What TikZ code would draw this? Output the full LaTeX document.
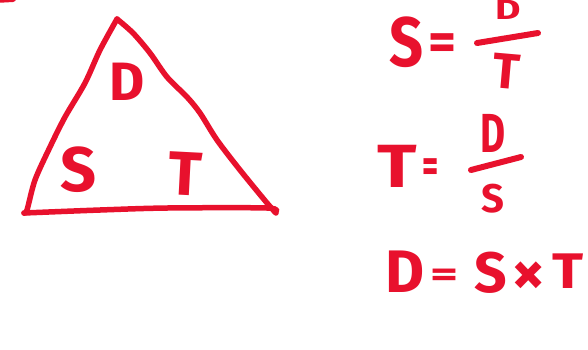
\documentclass[tikz,border=0pt]{standalone}
\usepackage{fontspec}
\newfontfamily\hand{Fira Sans}
\definecolor{mk}{RGB}{232,17,45}
\tikzset{
  ltr/.style={text=mk, inner sep=0pt, outer sep=0pt, font=\hand\bfseries\fontsize{#1}{#1}\selectfont},
  ink/.style={draw=mk, line width=#1, line cap=round, line join=round},
}
\begin{document}
\begin{tikzpicture}[x=1pt,y=-1pt]
\useasboundingbox (0,0) rectangle (588,349);
\clip (0,0) rectangle (588,349);
\fill[white] (0,0) rectangle (588,349);
% stray stroke at top left
\draw[ink=6pt] (-5,0) -- (13,-1);
% triangle
\draw[ink=5.5pt] plot[smooth, tension=0.5] coordinates {(117,19) (100,50) (85,83) (65,117) (50,147) (35,180) (27,210) (24,213)};
\draw[ink=5.5pt] plot[smooth, tension=0.5] coordinates {(24,213) (100,210) (167,208) (267,208) (275,212)};
\draw[ink=5.5pt] plot[smooth, tension=0.5] coordinates {(117,19) (133,33) (150,53) (167,77) (187,97) (200,113) (217,140) (240,170) (267,203) (276,213)};
\node[ltr=54] (tD) at (127,82) {D};
\node[ltr=63] (tS) at (79,170) {S};
\node[ltr=62, rotate=-3] (tT) at (185,174) {T};
% S = D / T
\node[ltr=70, xscale=.85] (s1) at (407,42) {S};
\node[ltr=54] (e1) at (443,47) {=};
\node[ltr=28, xscale=1.4] (fD1) at (508,10) {D};
\draw[ink=6pt] (477,43) -- (538,33);
\node[ltr=50, rotate=-5] (fT1) at (506,71) {T};
% T = D / S
\node[ltr=61, xscale=1.2] (t2) at (397,166) {T};
\node[ltr=48, xscale=.65] (e2) at (431,171) {=};
\node[ltr=55, xscale=.7] (fD2) at (493,133) {D};
\draw[ink=6pt] (471,170) -- (521,157);
\node[ltr=40] (fS2) at (493,199) {S};
% D = S x T
\node[ltr=60] (d3) at (405,272) {D};
\node[ltr=54, yscale=.65] (e3) at (445,278) {=};
\node[ltr=57] (s3) at (491,273) {S};
\node[ltr=66] (x3) at (529,279) {×};
\node[ltr=50, xscale=1.15] (t3) at (568,271) {T};
\end{tikzpicture}
\end{document}
